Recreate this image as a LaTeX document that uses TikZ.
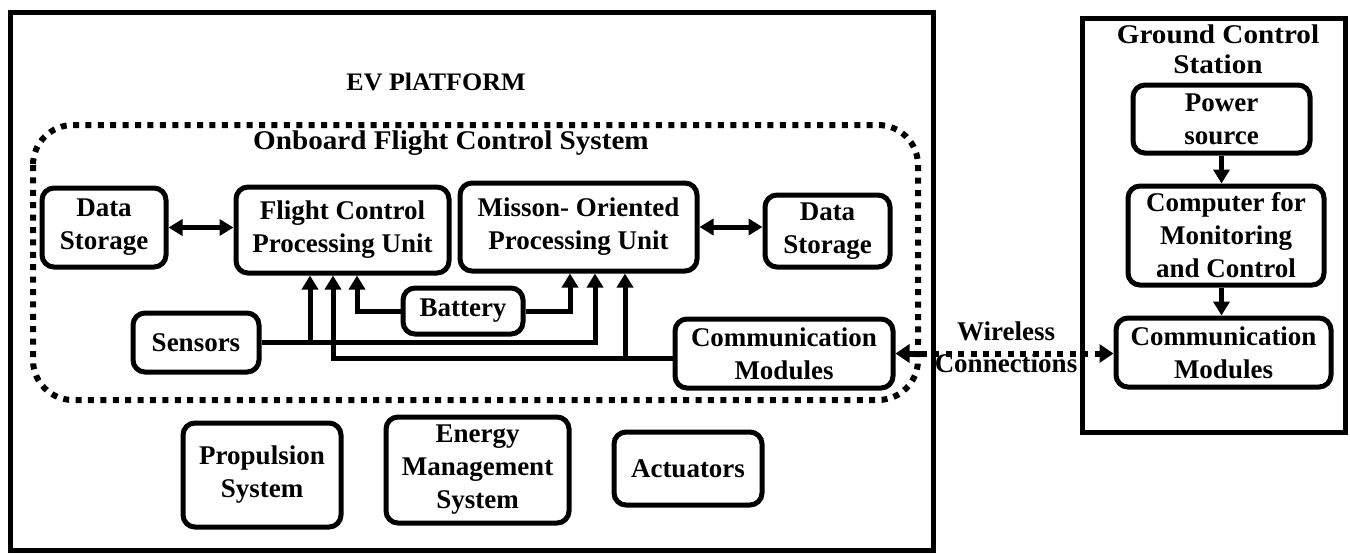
\documentclass[tikz,border=0pt]{standalone}
\usepackage{fontspec}
\setmainfont{Liberation Serif}
\newfontfamily\titlefont{Liberation Serif}[FakeStretch=1.08]
\newfontfamily\evfont{Liberation Serif}[FakeStretch=1.03]
\usetikzlibrary{arrows.meta,calc}
\tikzset{
  box/.style={draw, line width=2.5pt, rounded corners=6pt, align=center, inner sep=0pt,
    font=\fontsize{13.5}{16.5}\selectfont\bfseries},
  sz/.style 2 args={minimum width=#1*0.5pt, minimum height=#2*0.5pt},
  frame/.style={draw, line width=2.5pt},
  conn/.style={line width=2.5pt, -{Triangle[width=8pt,length=7pt]}},
  dconn/.style={line width=2.5pt, {Triangle[width=8pt,length=7pt]}-{Triangle[width=8pt,length=7pt]}},
  dotline/.style={line width=3pt, dash pattern=on 3pt off 3.2pt},
  ttl/.style={align=center, inner sep=0pt, font=\titlefont\bfseries\fontsize{13.5}{15}\selectfont},
  lbl/.style={align=center, inner sep=0pt, font=\fontsize{13.5}{16}\selectfont\bfseries}
}
\begin{document}
\begin{tikzpicture}[x=0.5pt, y=-0.5pt]
\useasboundingbox (0,0) rectangle (1350,554);
% frames
\draw[frame] (10,12) rectangle (933,550);
\draw[frame] (1082,18) rectangle (1345,432);
\draw[dotline, rounded corners=20pt] (33,125) rectangle (918,400);
% titles
\node[ttl, font=\evfont\bfseries\fontsize{12.6}{14}\selectfont] (evt) at (436,82) {EV PlATFORM};
\node[ttl] (oft) at (451,143) {Onboard Flight Control System};
\node[ttl, anchor=base] (gct1) at (1218,43) {Ground Control};
\node[ttl, anchor=base] (gct2) at (1218,73) {Station};
% boxes
\node[box, sz={124}{79}] (ds1) at (104,227.5) {Data\\Storage};
\node[box, sz={213}{86}] (fcpu) at (342.5,230) {Flight Control\\Processing Unit};
\node[box, sz={237}{88}] (mopu) at (578.5,227) {Misson- Oriented\\Processing Unit};
\node[box, sz={125}{72}] (ds2) at (827.5,231) {Data\\Storage};
\node[box, sz={120}{46}] (bat) at (463,311) {Battery};
\node[box, sz={126}{59}] (sen) at (196,342.5) {Sensors};
\node[box, sz={218}{69}] (com1) at (784,353.5) {Communication\\Modules};
\node[box, sz={158}{104}] (prop) at (262,475) {Propulsion\\System};
\node[box, sz={183}{106}] (ems) at (477.5,470) {Energy\\Management\\System};
\node[box, sz={148}{73}] (act) at (688,468.5) {Actuators};
\node[box, sz={177}{68}] (pow) at (1221.5,119) {Power\\source};
\node[box, sz={196}{99}] (comp) at (1226,235.5) {Computer for\\Monitoring\\and Control};
\node[box, sz={215}{69}] (com2) at (1223.5,352.5) {Communication\\Modules};
\node[lbl, anchor=base] (wl) at (1006,340) {Wireless};
\node[lbl, anchor=base] (wc) at (1006,372) {Connections};
% attachment points
\coordinate (fa) at ($(fcpu.south)+(-32.5,0)$);
\coordinate (fb) at ($(fcpu.south)+(-9.5,0)$);
\coordinate (fc) at ($(fcpu.south)+(14.5,0)$);
\coordinate (ma) at ($(mopu.south)+(-8.5,0)$);
\coordinate (mb) at ($(mopu.south)+(16.5,0)$);
\coordinate (mc) at ($(mopu.south)+(46.5,0)$);
\coordinate (cs) at ($(com1.west)+(0,4.5)$);
% connectors
\draw[dconn] (ds1.east) -- (ds1.east -| fcpu.west);
\draw[dconn] (mopu.east) -- (mopu.east -| ds2.west);
\draw[conn] (sen.east) -| (mb);
\draw[conn] (sen.east -| fa) -- (fa);
\draw[conn] (bat.west) -| (fc);
\draw[conn] (bat.east) -| (ma);
\draw[conn] (cs) -| (fb);
\draw[conn] (cs -| mc) -- (mc);
\draw[conn] (pow.south) -- (pow.south |- comp.north);
\draw[conn] (comp.south -| pow.south) -- (com2.north -| pow.south);
\draw[dotline, {Triangle[width=9pt,length=7pt]}-{Triangle[width=9pt,length=7pt]}] (com1.east) -- (com1.east -| com2.west);
\end{tikzpicture}
\end{document}
